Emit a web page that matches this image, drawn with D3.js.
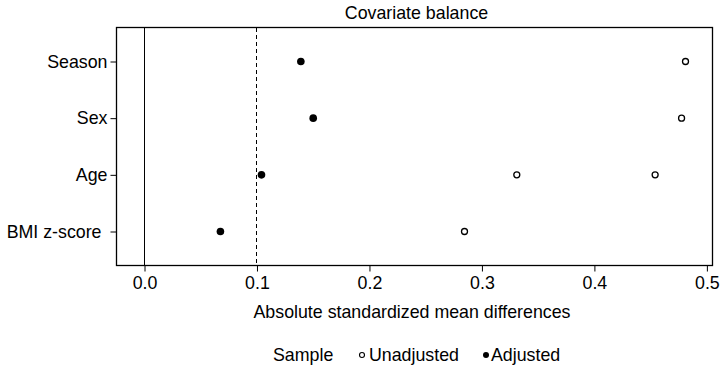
<!DOCTYPE html>
<html>
<head>
<meta charset="utf-8">
<script src="https://cdn.jsdelivr.net/npm/d3@7"></script>
<style>
  html, body { margin: 0; padding: 0; background: #fff; }
  svg text { font-family: "Liberation Sans", Arial, sans-serif; fill: #000; }
</style>
</head>
<body>
<svg id="chart" width="724" height="369"></svg>
<script>
const categories = ["Season", "Sex", "Age", "BMI z-score"];
const unadjusted = [
  { cat: "Season", value: 0.481 },
  { cat: "Sex", value: 0.4775 },
  { cat: "Age", value: 0.331 },
  { cat: "Age", value: 0.454 },
  { cat: "BMI z-score", value: 0.2845 }
];
const adjusted = [
  { cat: "Season", value: 0.139 },
  { cat: "Sex", value: 0.150 },
  { cat: "Age", value: 0.104 },
  { cat: "BMI z-score", value: 0.0675 }
];
const xTicks = [0, 0.1, 0.2, 0.3, 0.4, 0.5];
const threshold = 0.1;
const title = "Covariate balance";
const xLabel = "Absolute standardized mean differences";
const legendTitle = "Sample";
const legendLabels = ["Unadjusted", "Adjusted"];

const svg = d3.select("#chart");
const L = 116.5, R = 712.5, T = 27.5, B = 265.5;
const fs = 17.8;

const x = d3.scaleLinear().domain([-0.0249, 0.505]).range([L, R]);
const y = d3.scalePoint().domain(categories).range([T, B]).padding(0.6);

// reference lines
svg.append("line").attr("x1", x(0)).attr("x2", x(0)).attr("y1", T).attr("y2", B)
  .attr("stroke", "#000").attr("stroke-width", 1).attr("shape-rendering", "crispEdges");
svg.append("line").attr("x1", x(threshold)).attr("x2", x(threshold)).attr("y1", T).attr("y2", B)
  .attr("stroke", "#000").attr("stroke-width", 1).attr("stroke-dasharray", "4,3")
  .attr("shape-rendering", "crispEdges");

// panel box
svg.append("rect").attr("x", L).attr("y", T).attr("width", R - L).attr("height", B - T)
  .attr("fill", "none").attr("stroke", "#000").attr("stroke-width", 1.3);

// x axis
const xAxis = svg.append("g").attr("transform", `translate(0,${B})`)
  .call(d3.axisBottom(x).tickValues(xTicks).tickFormat(d3.format(".1f")).tickSize(6).tickPadding(5));
xAxis.select(".domain").remove();
xAxis.selectAll("line").attr("stroke", "#000");
xAxis.selectAll("text").attr("font-size", fs).attr("font-family", "Liberation Sans, Arial, sans-serif").attr("fill", "#000");

// y axis
const yAxis = svg.append("g").attr("transform", `translate(${L},0)`)
  .call(d3.axisLeft(y).tickSize(6).tickPadding(3));
yAxis.select(".domain").remove();
yAxis.selectAll("line").attr("stroke", "#000");
yAxis.selectAll("text").attr("font-size", fs).attr("font-family", "Liberation Sans, Arial, sans-serif").attr("fill", "#000");
yAxis.selectAll("text").filter(d => d === "BMI z-score").attr("dx", -6);

// points
svg.append("g").selectAll("circle").data(unadjusted).join("circle")
  .attr("cx", d => x(d.value)).attr("cy", d => y(d.cat)).attr("r", 3)
  .attr("fill", "#fff").attr("stroke", "#000").attr("stroke-width", 1.3);
svg.append("g").selectAll("circle").data(adjusted).join("circle")
  .attr("cx", d => x(d.value)).attr("cy", d => y(d.cat)).attr("r", 3.8)
  .attr("fill", "#000");

// title & labels
svg.append("text").attr("x", (L + R) / 2 + 2).attr("y", 19).attr("text-anchor", "middle")
  .attr("font-size", fs).text(title);
svg.append("text").attr("x", 412).attr("y", 318).attr("text-anchor", "middle")
  .attr("font-size", fs).text(xLabel);

// legend
const lg = svg.append("g").attr("transform", "translate(0,361)");
lg.append("text").attr("x", 273).attr("y", 0).attr("font-size", fs).text(legendTitle);
lg.append("circle").attr("cx", 362).attr("cy", -6).attr("r", 2.5)
  .attr("fill", "#fff").attr("stroke", "#000").attr("stroke-width", 1.1);
lg.append("text").attr("x", 369).attr("y", 0).attr("font-size", fs).text(legendLabels[0]);
lg.append("circle").attr("cx", 486).attr("cy", -6).attr("r", 3).attr("fill", "#000");
lg.append("text").attr("x", 491).attr("y", 0).attr("font-size", fs).text(legendLabels[1]);
</script>
</body>
</html>
